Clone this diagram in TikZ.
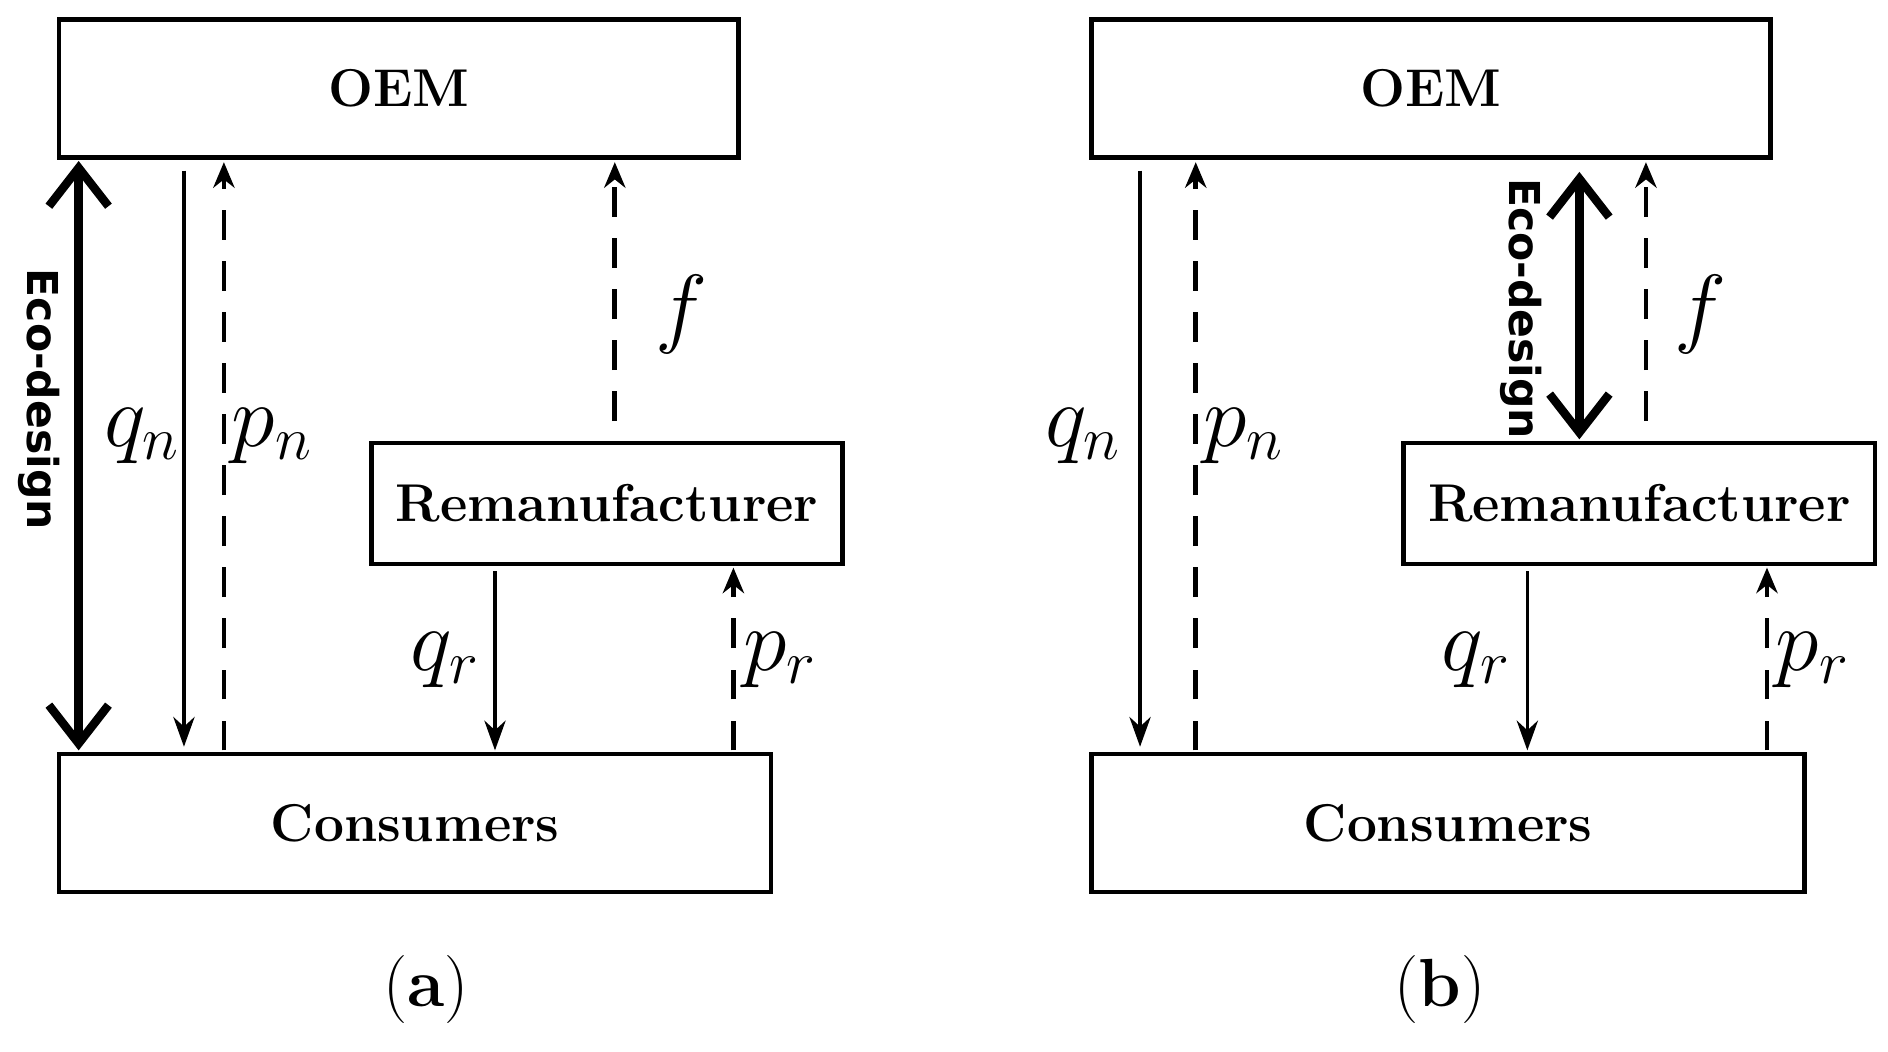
\documentclass[tikz,border=0pt]{standalone}
\usepackage{fontspec}
\newfontfamily\ecofont{DejaVu Sans}
\usetikzlibrary{arrows.meta}
\begin{document}
\begin{tikzpicture}[x=0.01cm,y=-0.01cm,
 box/.style={draw,line width=1.1pt,inner sep=0pt,font=\bfseries\fontsize{12.5}{15}\selectfont},
 sol/.style={line width=0.8pt,-{Stealth[length=7pt,width=5pt]}},
 dsh/.style={line width=1.1pt,dash pattern=on 7pt off 5pt,-{Stealth[length=6pt,width=5pt]}},
 eco/.style={line width=2pt,{Straight Barb[length=9pt,width=14pt,line width=2pt]}-{Straight Barb[length=9pt,width=14pt,line width=2pt]}},
 ecol/.style={font=\ecofont\bfseries\fontsize{10}{12}\selectfont,rotate=-90},
 ml/.style={font=\fontsize{20}{24}\selectfont},
 captxt/.style={font=\fontsize{16}{19}\selectfont}]
\useasboundingbox (0,0) rectangle (1560,869);
% panel a
\node[box,minimum width=5.61cm,minimum height=1.14cm] (oemA) at (329.5,73) {OEM};
\node[box,minimum width=5.88cm,minimum height=1.14cm] (conA) at (343,680) {Consumers};
\node[box,minimum width=3.89cm,minimum height=1.00cm] (remA) at (501.5,416) {Remanufacturer};
\draw[eco] (65,133) -- (65,620);
\node[ecol] (ecoA) at (32,330) {Eco-design};
\coordinate (a1) at (152,141); \coordinate (a2) at (152,617);
\draw[sol] (a1) -- (a2);
\node[ml] (qnA) at (118,360) {$q_n$};
\coordinate (b1) at (185,620); \coordinate (b2) at (185,134);
\draw[dsh] (b1) -- (b2);
\node[ml] (pnA) at (225,360) {$p_n$};
\coordinate (c1) at (508,348); \coordinate (c2) at (508,134);
\draw[dsh] (c1) -- (c2);
\node[ml] (fA) at (563,260) {$f$};
\coordinate (d1) at (409,472); \coordinate (d2) at (409,620);
\draw[sol] (d1) -- (d2);
\node[ml] (qrA) at (368,545) {$q_r$};
\coordinate (e1) at (606,620); \coordinate (e2) at (606,469);
\draw[dsh] (e1) -- (e2);
\node[ml] (prA) at (645,545) {$p_r$};
\node[captxt] (capA) at (352,818) {(\textbf{a})};
% panel b
\node[box,minimum width=5.61cm,minimum height=1.14cm] (oemB) at (1182.5,73) {OEM};
\node[box,minimum width=5.89cm,minimum height=1.14cm] (conB) at (1196.5,680) {Consumers};
\node[box,minimum width=3.89cm,minimum height=1.00cm] (remB) at (1354.5,416) {Remanufacturer};
\draw[eco] (1305,142) -- (1305,363);
\node[ecol] (ecoB) at (1257,255) {Eco-design};
\coordinate (f1) at (942,141); \coordinate (f2) at (942,617);
\draw[sol] (f1) -- (f2);
\node[ml] (qnB) at (895,360) {$q_n$};
\coordinate (g1) at (988,620); \coordinate (g2) at (988,134);
\draw[dsh] (g1) -- (g2);
\node[ml] (pnB) at (1028,360) {$p_n$};
\coordinate (h1) at (1360,348); \coordinate (h2) at (1360,134);
\draw[dsh] (h1) -- (h2);
\node[ml] (fB) at (1405,260) {$f$};
\coordinate (i1) at (1262,472); \coordinate (i2) at (1262,620);
\draw[sol] (i1) -- (i2);
\node[ml] (qrB) at (1220,545) {$q_r$};
\coordinate (j1) at (1460,620); \coordinate (j2) at (1460,469);
\draw[dsh] (j1) -- (j2);
\node[ml] (prB) at (1498,545) {$p_r$};
\node[captxt] (capB) at (1190,818) {(\textbf{b})};
\end{tikzpicture}
\end{document}
